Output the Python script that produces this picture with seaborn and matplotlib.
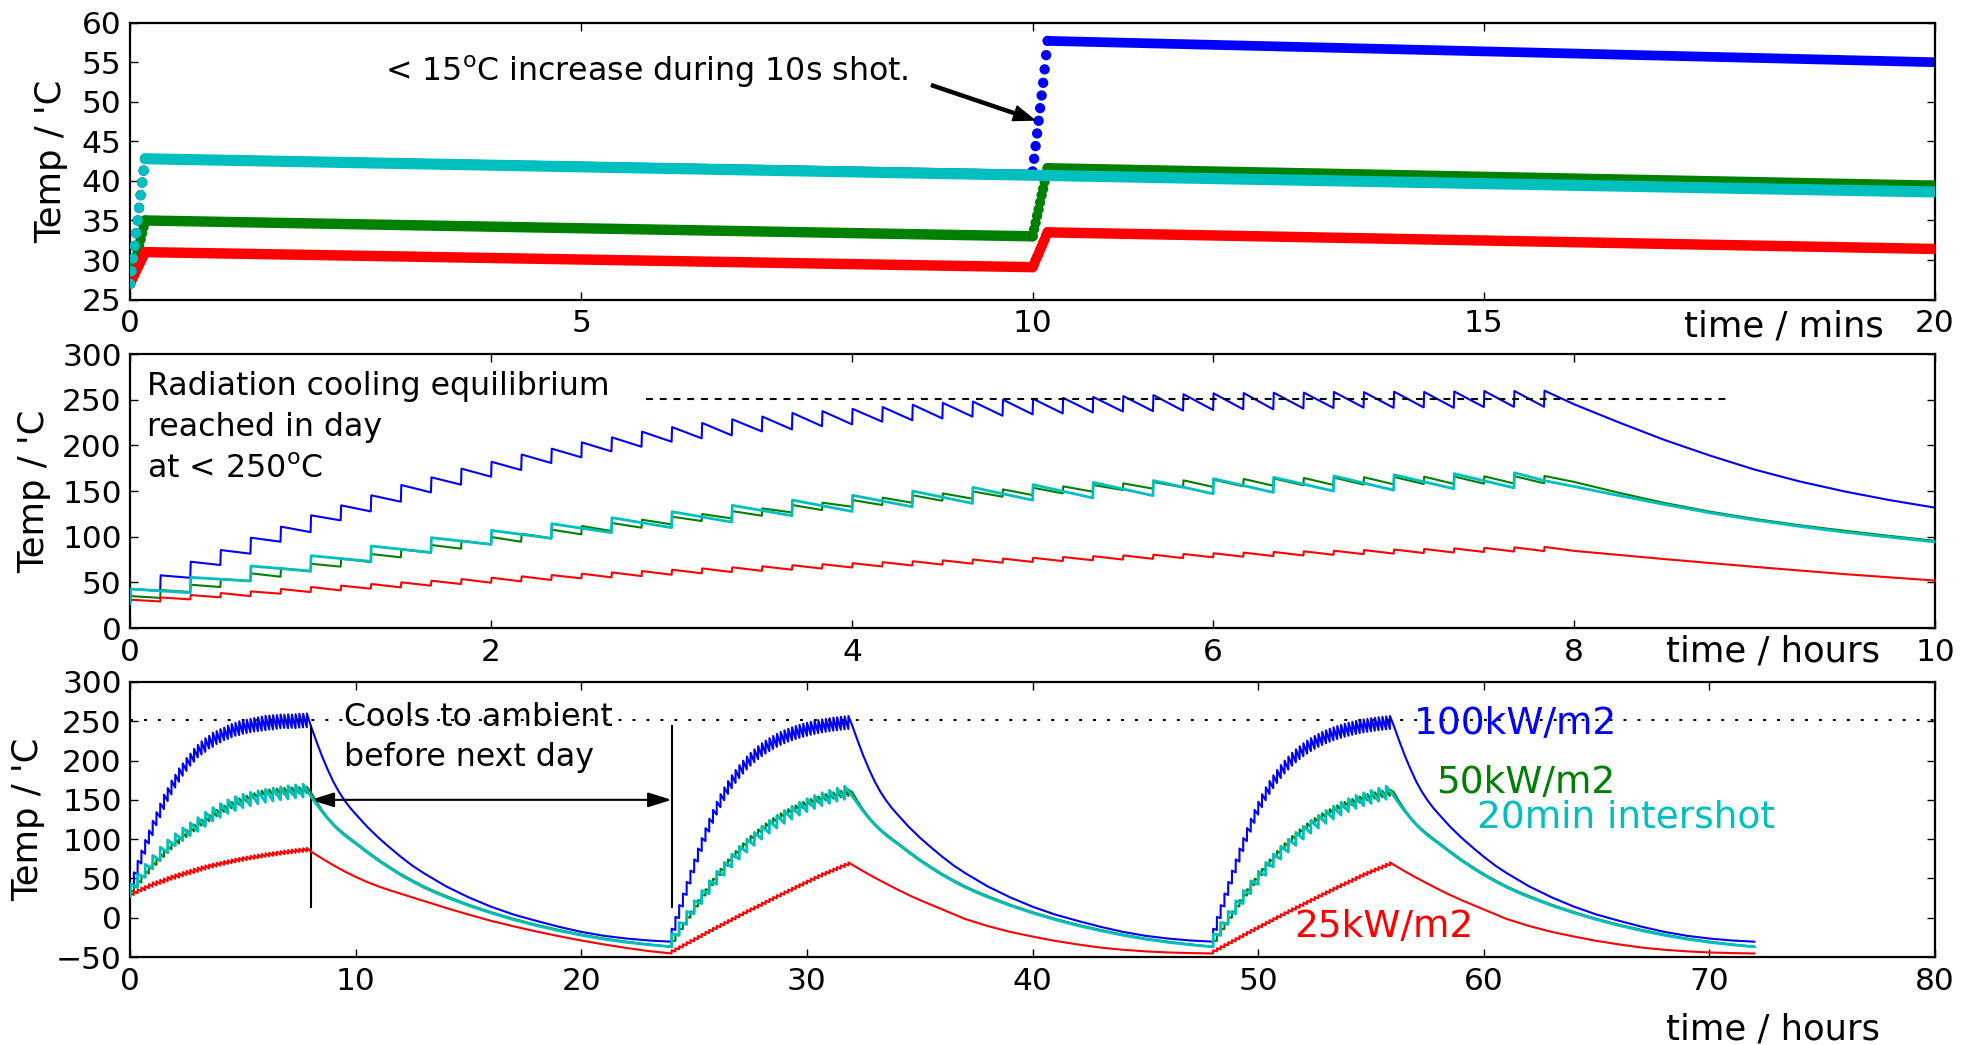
import numpy as np
import matplotlib
matplotlib.use("Agg")
import matplotlib.pyplot as plt
import seaborn as sns

# ------------------------------------------------------------------ data
SHOT_H = 10 / 3600.0          # 10 s shot, in hours
SHOT_MIN = 10 / 60.0          # 10 s shot, in minutes
INT_10MIN = 1 / 6.0           # 10 min intershot (hours)
INT_20MIN = 1 / 3.0           # 20 min intershot (hours)

# ---- day 1 : temperature just before (pre) and just after (post) every shot
blue_d1_pre = [27.0, 40.8, 55.0, 69.0, 81.4, 94.5, 105.0, 117.9, 127.7, 138.3, 148.5, 157.0,
               165.7, 173.0, 180.7, 186.9, 193.4, 198.5, 204.0, 207.7, 211.0, 215.3, 217.5, 221.0,
               223.0, 226.0, 227.5, 229.5, 231.5, 232.5, 234.0, 235.0, 236.0, 237.0, 237.5, 238.0,
               238.7, 239.5, 239.5, 240.5, 241.0, 241.5, 241.2, 241.6, 241.2, 242.0, 242.2, 242.3]
blue_d1_post = [42.8, 57.7, 72.6, 85.4, 98.9, 111.0, 123.4, 134.3, 145.3, 156.6, 165.0, 174.5,
                182.0, 190.0, 196.4, 203.3, 208.8, 215.0, 220.0, 224.5, 228.5, 231.5, 235.5, 237.5,
                240.0, 242.0, 244.5, 246.5, 248.0, 250.0, 251.0, 252.0, 253.0, 254.0, 255.0, 256.0,
                257.0, 257.3, 257.7, 257.8, 258.5, 258.3, 258.8, 258.5, 259.0, 259.5, 259.5, 259.9]
green_d1_pre = [27.0, 33.0, 39.4, 44.9, 51.5, 56.2, 62.0, 67.2, 72.3, 77.4, 82.5, 86.9,
                91.6, 94.5, 98.2, 102.6, 106.2, 109.9, 113.5, 117.2, 120.0, 123.0, 126.6, 129.2,
                132.8, 134.7, 137.2, 139.4, 141.6, 143.8, 145.6, 147.4, 149.3, 151.1, 152.6, 154.0,
                154.5, 155.2, 155.8, 156.3, 156.7, 157.1, 157.4, 157.7, 157.9, 158.1, 158.3, 158.5]
green_d1_post = [35.0, 41.6, 47.4, 53.6, 59.9, 65.3, 70.4, 75.9, 81.0, 86.1, 90.9, 95.6,
                 99.6, 103.3, 107.7, 111.7, 115.0, 118.6, 121.9, 124.8, 128.0, 131.0, 134.7, 137.2,
                 140.1, 142.7, 145.3, 147.4, 149.6, 151.8, 153.6, 155.1, 156.6, 158.4, 159.9, 161.7,
                 162.4, 163.2, 163.8, 164.3, 164.7, 165.1, 165.4, 165.7, 165.9, 166.1, 166.3, 166.5]
red_d1_pre = [27.0, 29.1, 31.4, 33.6, 35.0, 37.6, 39.4, 41.2, 43.1, 44.5, 46.4, 48.2,
              49.6, 51.1, 52.6, 54.4, 55.5, 56.9, 58.4, 59.9, 61.3, 62.6, 63.9, 65.1,
              66.3, 67.4, 68.5, 69.5, 70.5, 71.5, 72.4, 73.3, 74.2, 75.0, 75.8, 76.6,
              77.4, 78.1, 78.8, 79.5, 80.2, 80.9, 81.5, 82.1, 82.7, 83.3, 83.8, 84.3]
red_d1_post = [31.0, 33.5, 36.1, 38.3, 40.1, 42.7, 44.9, 46.4, 48.2, 50.0, 51.8, 53.6,
               55.1, 56.6, 58.0, 59.5, 60.9, 62.4, 63.9, 65.3, 66.5, 67.6, 68.8, 69.9,
               71.0, 72.1, 73.1, 74.1, 75.1, 76.0, 76.9, 77.8, 78.7, 79.5, 80.3, 81.1,
               81.9, 82.6, 83.3, 84.0, 84.7, 85.4, 86.0, 86.6, 87.2, 87.8, 88.3, 88.8]
cyan_d1_pre = [27.0, 38.6, 51.5, 62.4, 73.0, 82.8, 91.6, 98.2, 104.4, 109.9, 116.0, 123.0,
               127.7, 132.8, 136.5, 140.0, 142.5, 145.0, 147.0, 148.5, 150.0, 151.0, 152.5, 153.5]
cyan_d1_post = [42.8, 55.5, 67.9, 79.2, 89.8, 98.9, 106.9, 114.2, 120.8, 127.4, 134.3, 140.1,
                145.3, 150.0, 154.0, 157.0, 159.5, 161.5, 163.5, 165.0, 166.5, 167.8, 169.0, 170.0]

# ---- cooling after the last shot of a day (hours within the day)
cool_t = [8.0, 8.25, 8.5, 8.75, 9.0, 9.25, 9.5, 9.75, 10.0, 10.5, 11.0, 11.5, 12.0, 12.5,
          13.0, 13.5, 14.0, 15.0, 16.0, 17.0, 18.0, 19.0, 20.0, 21.0, 22.0, 23.0, 24.0]
blue_cool = [245.0, 225.0, 206.0, 189.0, 173.5, 160.5, 149.5, 140.0, 131.8, 116.0, 102.0,
             89.5, 77.5, 66.5, 57.0, 48.5, 40.0, 26.0, 14.0, 4.0, -4.0, -11.5, -18.0, -23.0,
             -26.5, -29.0, -30.5]
green_cool = [160.0, 148.0, 137.0, 127.5, 119.5, 112.5, 106.5, 100.8, 95.5, 84.5, 74.0,
              64.5, 55.5, 47.5, 40.0, 33.5, 27.5, 16.5, 7.0, -1.5, -9.0, -15.5, -21.5, -26.5,
              -30.5, -34.0, -37.0]
cyan_cool_t = [7.833] + cool_t
cyan_cool = [161.5, 155.0, 145.0, 135.3, 126.3, 118.3, 111.3, 105.0, 99.5, 94.3, 83.3, 72.8,
             63.3, 54.3, 46.3, 38.8, 32.3, 26.3, 15.5, 6.0, -2.5, -10.0, -16.5, -22.3, -27.3,
             -31.3, -34.5, -37.0]
red_cool_t = [8.0, 8.5, 9.0, 9.5, 10.0, 10.5, 11.0, 11.5, 12.0, 13.0, 14.0, 15.0, 16.0,
              17.0, 18.0, 19.0, 20.0, 21.0, 22.0, 23.0, 24.0]
red_d1_cool = [84.5, 75.5, 67.0, 59.0, 52.0, 45.5, 40.0, 35.0, 30.5, 21.5, 12.5, 4.0, -4.0,
               -11.0, -17.5, -23.5, -29.0, -34.0, -38.5, -42.5, -45.5]
red_d2_cool = [67.5, 59.0, 51.0, 43.5, 36.0, 29.0, 22.5, 16.5, 10.5, -1.5, -10.5, -18.0, -24.0,
               -29.5, -34.0, -38.0, -40.8, -42.8, -44.2, -45.0, -45.5]

# ---- days 2 and 3 (both start from the same cold state)
blue_d2_pre = [-30.5, -15.5, -0.5, 14.3, 29.0, 43.5, 57.7, 71.5, 84.8, 97.5, 109.5, 120.7,
               131.1, 140.7, 149.5, 157.5, 164.8, 171.5, 177.7, 183.4, 188.6, 193.4, 197.8, 201.8,
               205.5, 208.9, 212.0, 214.8, 217.4, 219.8, 222.0, 224.0, 225.8, 227.4, 228.9, 230.3,
               231.6, 232.8, 233.9, 234.9, 235.8, 236.6, 237.3, 238.0, 238.6, 239.2, 239.7, 240.2]
blue_d2_post = [-14.0, 1.0, 16.0, 30.8, 45.5, 60.0, 74.2, 88.0, 101.3, 114.0, 126.0, 137.2,
                147.6, 157.2, 166.0, 174.0, 181.3, 188.0, 194.2, 199.9, 205.1, 209.9, 214.3, 218.3,
                222.0, 225.4, 228.5, 231.3, 233.9, 236.3, 238.5, 240.5, 242.3, 243.9, 245.4, 246.8,
                248.1, 249.3, 250.4, 251.4, 252.3, 253.1, 253.8, 254.5, 255.1, 255.7, 256.2, 256.7]
green_d2_pre = [-37.0, -29.5, -22.0, -14.6, -7.3, 0.0, 7.2, 14.3, 21.3, 28.2, 35.0, 41.6,
                48.0, 54.2, 60.2, 66.0, 71.5, 76.8, 81.9, 86.8, 91.5, 96.0, 100.3, 104.4,
                108.3, 112.0, 115.5, 118.8, 121.9, 124.8, 127.6, 130.2, 132.7, 135.0, 137.2, 139.3,
                141.3, 143.1, 144.8, 146.4, 147.9, 149.3, 150.5, 151.6, 152.6, 153.5, 154.3, 155.0]
green_d2_post = [-29.0, -21.5, -14.0, -6.6, 0.7, 8.0, 15.2, 22.3, 29.3, 36.2, 43.0, 49.6,
                 56.0, 62.2, 68.2, 74.0, 79.5, 84.8, 89.9, 94.8, 99.5, 104.0, 108.3, 112.4,
                 116.3, 120.0, 123.5, 126.8, 129.9, 132.8, 135.6, 138.2, 140.7, 143.0, 145.2, 147.3,
                 149.3, 151.1, 152.8, 154.4, 155.9, 157.3, 158.5, 159.6, 160.6, 161.5, 162.3, 163.0]
red_d2_pre = [-45.5, -42.9, -40.3, -37.7, -35.1, -32.5, -29.9, -27.3, -24.7, -22.1, -19.5, -17.0,
              -14.5, -12.0, -9.5, -7.0, -4.5, -2.0, 0.5, 3.0, 5.5, 7.9, 10.3, 12.7,
              15.1, 17.5, 19.9, 22.3, 24.7, 27.1, 29.5, 31.8, 34.1, 36.4, 38.7, 41.0,
              43.3, 45.6, 47.9, 50.2, 52.5, 54.5, 56.5, 58.5, 60.5, 62.5, 64.5, 66.5]
red_d2_post = [-41.5, -38.9, -36.3, -33.7, -31.1, -28.5, -25.9, -23.3, -20.7, -18.1, -15.5, -13.0,
               -10.5, -8.0, -5.5, -3.0, -0.5, 2.0, 4.5, 7.0, 9.5, 11.9, 14.3, 16.7,
               19.1, 21.5, 23.9, 26.3, 28.7, 31.1, 33.5, 35.8, 38.1, 40.4, 42.7, 45.0,
               47.3, 49.6, 51.9, 54.2, 56.5, 58.5, 60.5, 62.5, 64.5, 66.5, 68.5, 70.5]
cyan_d2_pre = [-37.0, -22.5, -8.5, 5.0, 18.0, 30.5, 42.5, 54.0, 64.5, 74.5, 83.5, 92.0,
               100.0, 107.5, 114.0, 120.0, 125.5, 130.5, 135.0, 139.0, 142.5, 145.5, 148.3, 150.7]
cyan_d2_post = [-20.5, -6.0, 8.0, 21.5, 34.5, 47.0, 59.0, 70.5, 81.0, 91.0, 100.0, 108.5,
                116.5, 124.0, 130.5, 136.5, 142.0, 147.0, 151.5, 155.5, 159.0, 162.0, 164.8, 167.2]

# ---- top panel: 1-second samples taken during the first shots (temperature)
cyan_rise_0 = [27.0, 28.6, 30.2, 31.8, 33.4, 35.0, 36.6, 38.2, 39.8, 41.3, 42.8]
blue_rise_10 = [41.2, 42.8, 44.4, 46.0, 47.6, 49.2, 50.8, 52.4, 54.1, 55.9, 57.7]
green_rise_0 = [27.0, 27.8, 28.6, 29.4, 30.2, 31.0, 31.8, 32.6, 33.4, 34.2, 35.0]
green_rise_10 = [33.0, 33.9, 34.7, 35.6, 36.4, 37.3, 38.2, 39.0, 39.9, 40.8, 41.6]
red_rise_0 = [27.0, 27.4, 27.8, 28.2, 28.6, 29.0, 29.4, 29.8, 30.2, 30.6, 31.0]
red_rise_10 = [29.1, 29.5, 30.0, 30.4, 30.8, 31.3, 31.7, 32.2, 32.6, 33.1, 33.5]

EQUIL_T2 = 251.0     # dashed guide, middle panel
EQUIL_X2 = (2.86, 8.86)
EQUIL_T3 = 252.0     # dotted guide, bottom panel
DAY_END, NEXT_DAY = 8.0, 24.0
DAY_OFFSETS = [0.0, 24.0, 48.0]

BLUE, GREEN, RED, CYAN = (0, 0, 1), (0, 0.5, 0), (1, 0, 0), (0, 0.75, 0.75)

# ------------------------------------------------------------------ style
sns.set_style("ticks")
plt.rcParams.update({
    "font.family": ["DejaVu Sans"],
    "font.size": 22,
    "mathtext.default": "regular",
    "axes.linewidth": 1.6,
    "axes.edgecolor": "black",
    "xtick.direction": "in", "ytick.direction": "in",
    "xtick.top": True, "ytick.right": True,
    "xtick.major.size": 5.5, "ytick.major.size": 5.5,
    "xtick.major.width": 1.0, "ytick.major.width": 1.0,
    "xtick.labelsize": 22.5, "ytick.labelsize": 22.5,
    "axes.labelsize": 25.5,
    "xtick.major.pad": 7, "ytick.major.pad": 6,
    "xtick.color": "black", "ytick.color": "black",
    "text.color": "black", "axes.labelcolor": "black",
})


def saw_xy(pre, post, interval, ct, cT, offset=0.0):
    x, y = [], []
    for k in range(len(pre)):
        t = offset + k * interval
        x += [t, t + SHOT_H]
        y += [pre[k], post[k]]
    x += [offset + c for c in ct]
    y += list(cT)
    return np.array(x), np.array(y)


def line(ax, x, y, color, lw, z):
    sns.lineplot(x=x, y=y, sort=False, estimator=None, errorbar=None,
                 color=color, lw=lw, ax=ax, zorder=z)


fig = plt.figure(figsize=(19.74, 10.45), dpi=100)
L, W = 0.0659, 0.9144
ax1 = fig.add_axes([L, 0.7133, W, 0.2650])
ax2 = fig.add_axes([L, 0.3990, W, 0.2622])
ax3 = fig.add_axes([L, 0.0842, W, 0.2632])

# ------------------------------------------------------------------ panel 1 (minutes)
p1_series = [
    (BLUE, blue_d1_pre, blue_d1_post, 10.0, [(0.0, cyan_rise_0), (10.0, blue_rise_10)], 2, 7.0),
    (GREEN, green_d1_pre, green_d1_post, 10.0, [(0.0, green_rise_0), (10.0, green_rise_10)], 3, 7.5),
    (RED, red_d1_pre, red_d1_post, 10.0, [(0.0, red_rise_0), (10.0, red_rise_10)], 4, 7.5),
    (CYAN, cyan_d1_pre, cyan_d1_post, 20.0, [(0.0, cyan_rise_0)], 5, 8.0),
]
for color, pre, post, step, rises, z, lw in p1_series:
    for k in range(len(pre) - 1):
        t0 = k * step + SHOT_MIN
        if t0 >= 20:
            break
        t1 = (k + 1) * step
        line(ax1, np.array([t0, t1]), np.array([post[k], pre[k + 1]]), color, lw, z)
        ax1.lines[-1].set_solid_capstyle("round")
    for tstart, vals in rises:
        ts = tstart + np.arange(len(vals)) / 60.0
        sns.scatterplot(x=ts, y=np.array(vals), s=55, color=color, edgecolor="none",
                        linewidth=0, ax=ax1, zorder=z)
ax1.set_xlim(0, 20)
ax1.set_ylim(25, 60)
ax1.set_xticks([0, 5, 10, 15, 20])
ax1.set_yticks(np.arange(25, 61, 5))
ax1.set_ylabel("Temp / 'C", labelpad=10)
ax1.set_xlabel("time / mins")
ax1.xaxis.set_label_coords(0.916, -0.035)
ax1.text(2.82, 53.8, "< 15$^{o}$C increase during 10s shot.", ha="left", va="center",
         fontsize=22.8)
ax1.annotate("", xy=(10.02, 47.7), xytext=(8.88, 52.1),
             arrowprops=dict(facecolor="black", edgecolor="black", width=2.2,
                             headwidth=11, headlength=15, shrink=0))

# ------------------------------------------------------------------ panels 2 & 3 (hours)
day_series = [
    (BLUE, 1.5, INT_10MIN, (blue_d1_pre, blue_d1_post, cool_t, blue_cool),
     (blue_d2_pre, blue_d2_post, cool_t, blue_cool), 2),
    (GREEN, 1.5, INT_10MIN, (green_d1_pre, green_d1_post, cool_t, green_cool),
     (green_d2_pre, green_d2_post, cool_t, green_cool), 3),
    (RED, 1.5, INT_10MIN, (red_d1_pre, red_d1_post, red_cool_t, red_d1_cool),
     (red_d2_pre, red_d2_post, red_cool_t, red_d2_cool), 4),
    (CYAN, 2.0, INT_20MIN, (cyan_d1_pre, cyan_d1_post, cyan_cool_t, cyan_cool),
     (cyan_d2_pre, cyan_d2_post, cyan_cool_t, cyan_cool), 5),
]
for color, lw, step, d1, d2, z in day_series:
    x1, y1 = saw_xy(d1[0], d1[1], step, d1[2], d1[3])
    line(ax2, x1, y1, color, lw, z)
    xs, ys = [x1], [y1]
    for off in DAY_OFFSETS[1:]:
        xd, yd = saw_xy(d2[0], d2[1], step, d2[2], d2[3], offset=off)
        xs.append(xd)
        ys.append(yd)
    line(ax3, np.concatenate(xs), np.concatenate(ys), color, lw, z)

ax2.hlines(EQUIL_T2, EQUIL_X2[0], EQUIL_X2[1], colors="black", linestyles=(0, (3.3, 3.3)), lw=1.5)
ax2.set_xlim(0, 10)
ax2.set_ylim(0, 300)
ax2.set_xticks([0, 2, 4, 6, 8, 10])
ax2.set_yticks(np.arange(0, 301, 50))
ax2.set_ylabel("Temp / 'C", labelpad=8)
ax2.set_xlabel("time / hours")
ax2.xaxis.set_label_coords(0.910, -0.025)
ax2.text(0.095, 281, "Radiation cooling equilibrium\nreached in day\nat < 250$^{o}$C",
         ha="left", va="top", fontsize=22.8, linespacing=1.42)

ax3.axhline(EQUIL_T3, color="black", ls=(0, (1.4, 5.3)), lw=1.5)
ax3.vlines([DAY_END, NEXT_DAY], 12, 245, colors="black", lw=1.5)
ax3.annotate("", xy=(DAY_END, 150), xytext=(NEXT_DAY, 150),
             arrowprops=dict(arrowstyle="<|-|>,head_length=0.8,head_width=0.25", color="black",
                             lw=1.5, shrinkA=0, shrinkB=0, mutation_scale=18))
ax3.text(9.5, 275, "Cools to ambient\nbefore next day", ha="left", va="top", fontsize=22.8,
         linespacing=1.38)
ax3.text(56.9, 247, "100kW/m2", color=BLUE, ha="left", va="center", fontsize=27)
ax3.text(57.9, 172, "50kW/m2", color=GREEN, ha="left", va="center", fontsize=27)
ax3.text(59.7, 127, "20min intershot", color=CYAN, ha="left", va="center", fontsize=27)
ax3.text(51.6, -12, "25kW/m2", color=RED, ha="left", va="center", fontsize=27)
ax3.set_xlim(0, 80)
ax3.set_ylim(-50, 300)
ax3.set_xticks(np.arange(0, 81, 10))
ax3.set_yticks(np.arange(-50, 301, 50))
ax3.set_ylabel("Temp / 'C", labelpad=8)
ax3.set_xlabel("time / hours")
ax3.xaxis.set_label_coords(0.910, -0.20)

for ax in (ax1, ax2, ax3):
    for s in ax.spines.values():
        s.set_visible(True)
        s.set_color("black")
    ax.tick_params(which="both", top=True, right=True, direction="in")

fig.savefig("out.png", dpi=100)
